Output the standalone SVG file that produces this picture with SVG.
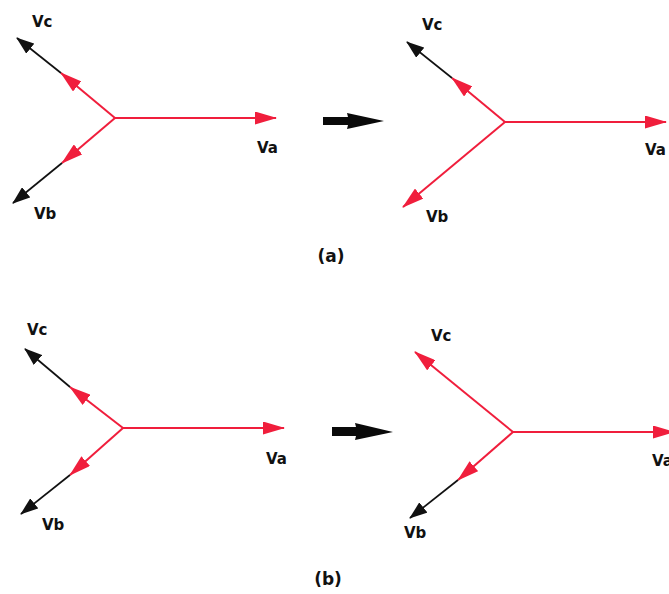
<svg xmlns="http://www.w3.org/2000/svg" width="669" height="594" viewBox="0 0 669 594">
  <style>
    .red { stroke: #f01e3c; stroke-width: 2; fill: none; marker-end: url(#headRed); }
    .blk { stroke: #111; stroke-width: 1.7; fill: none; marker-end: url(#headBlk); }
    .lbl { font-family: "DejaVu Sans", Verdana, sans-serif; font-weight: bold; font-size: 15px; fill: #111; }
    .cap { font-family: "DejaVu Sans", Verdana, sans-serif; font-weight: bold; font-size: 17px; fill: #111; text-anchor: middle; }
    .big { fill: #0a0a0a; }
  </style>
  <defs>
    <marker id="headRed" markerUnits="userSpaceOnUse" markerWidth="22" markerHeight="13" viewBox="0 0 22 13" refX="21" refY="6.5" orient="auto">
      <path d="M0,0 L22,6.5 L0,13 z" fill="#f01e3c"/>
    </marker>
    <marker id="headBlk" markerUnits="userSpaceOnUse" markerWidth="18" markerHeight="13" viewBox="0 0 18 13" refX="17" refY="6.5" orient="auto">
      <path d="M0,0 L18,6.5 L0,13 z" fill="#111"/>
    </marker>
  </defs>
  <rect width="669" height="594" fill="#fff"/>

  <!-- (a) before -->
  <g id="phasor-a-left">
    <line class="red" x1="115" y1="118" x2="276" y2="118"/>
    <line class="red" x1="115" y1="118" x2="61" y2="73"/>
    <line class="blk" x1="61" y1="73" x2="17" y2="38"/>
    <line class="red" x1="115" y1="118" x2="62" y2="163"/>
    <line class="blk" x1="62" y1="163" x2="13" y2="203"/>
    <text class="lbl" x="32" y="27">Vc</text>
    <text class="lbl" x="34" y="219">Vb</text>
    <text class="lbl" x="257" y="153">Va</text>
  </g>

  <!-- (a) after -->
  <g id="phasor-a-right">
    <line class="red" x1="505" y1="122" x2="666" y2="122"/>
    <line class="red" x1="505" y1="122" x2="452" y2="78"/>
    <line class="blk" x1="452" y1="78" x2="407" y2="42"/>
    <line class="red" x1="505" y1="122" x2="403" y2="207"/>
    <text class="lbl" x="422" y="30">Vc</text>
    <text class="lbl" x="426" y="222">Vb</text>
    <text class="lbl" x="645" y="155">Va</text>
  </g>

  <!-- (b) before -->
  <g id="phasor-b-left">
    <line class="red" x1="123" y1="428" x2="284" y2="428"/>
    <line class="red" x1="123" y1="428" x2="70" y2="387"/>
    <line class="blk" x1="70" y1="387" x2="25" y2="349"/>
    <line class="red" x1="123" y1="428" x2="70" y2="475"/>
    <line class="blk" x1="70" y1="475" x2="21" y2="514"/>
    <text class="lbl" x="27" y="335">Vc</text>
    <text class="lbl" x="42" y="530">Vb</text>
    <text class="lbl" x="266" y="464">Va</text>
  </g>

  <!-- (b) after -->
  <g id="phasor-b-right">
    <line class="red" x1="513" y1="432" x2="674" y2="432"/>
    <line class="red" x1="513" y1="432" x2="415" y2="352"/>
    <line class="red" x1="513" y1="432" x2="458" y2="480"/>
    <line class="blk" x1="458" y1="480" x2="410" y2="518"/>
    <text class="lbl" x="431" y="341">Vc</text>
    <text class="lbl" x="404" y="538">Vb</text>
    <text class="lbl" x="652" y="466">Va</text>
  </g>

  <!-- transition arrows -->
  <g id="connectors">
    <path class="big" d="M323,117 L348,117 L347,113 L384,121 L347,129 L348,125 L323,125 z"/>
    <path class="big" d="M332,427 L356,427 L355,423 L393,432 L355,440 L356,436 L332,436 z"/>
  </g>

  <text class="cap" x="331" y="262">(a)</text>
  <text class="cap" x="328" y="585">(b)</text>
</svg>
